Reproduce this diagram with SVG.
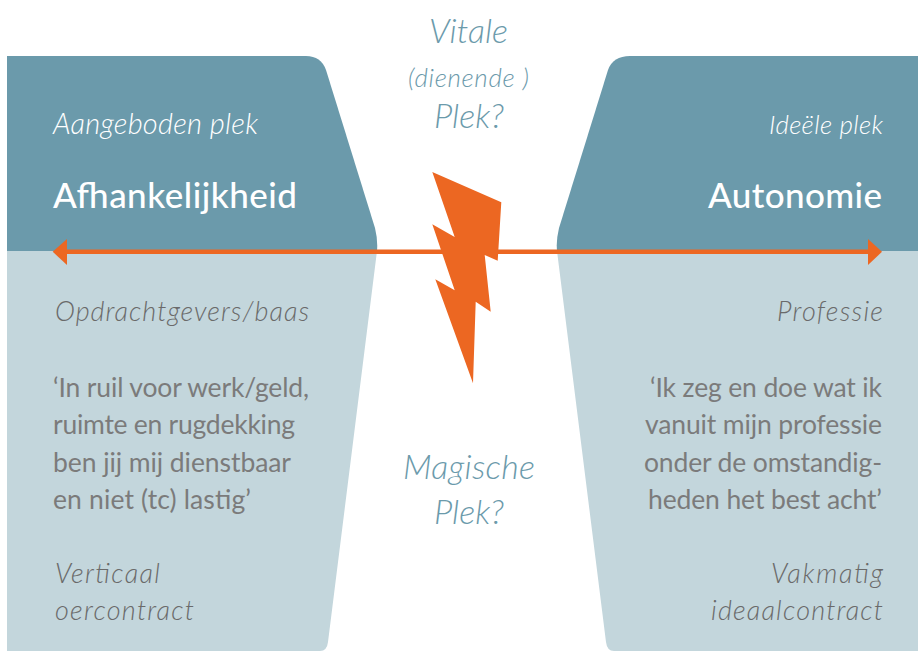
<svg xmlns="http://www.w3.org/2000/svg" width="918" height="651" viewBox="0 0 918 651">
<style>
text{font-family:"Lato","Liberation Sans",sans-serif;font-weight:300}
.g{fill:#6a6a6a;font-size:27px}
.u{font-weight:400;font-size:26.5px;fill:#7b7b7b}
.i{font-style:italic}
.b{fill:#6b9aab;font-style:italic;font-size:34px}
.s{font-size:26px}
.w{fill:#fff}
.h{font-size:35px;font-weight:500}
</style>
<rect width="918" height="651" fill="#fff"/>
<g id="left">
<path d="M7 251H377L328 642Q327 651 320 651H7Z" fill="#c3d6dc"/>
<path d="M7 56H306Q321 56 326 70L375 228Q378 240 377 251H7Z" fill="#6b9aab"/>
<text class="w i" x="53" y="134" font-size="29" textLength="205">Aangeboden plek</text>
<text class="w h" x="53" y="208" textLength="244">Afhankelijkheid</text>
<text class="g i" x="55" y="321" textLength="254">Opdrachtgevers/baas</text>
<text class="g u" x="53" y="397" textLength="256">‘In ruil voor werk/geld,</text>
<text class="g u" x="53" y="434" textLength="242">ruimte en rugdekking</text>
<text class="g u" x="53" y="472" textLength="238">ben jij mij dienstbaar</text>
<text class="g u" x="53" y="509" textLength="198">en niet (tc) lastig’</text>
<text class="g i" x="55" y="583" textLength="105">Verticaal</text>
<text class="g i" x="55" y="620" textLength="139">oercontract</text>
</g>
<g id="right">
<path d="M918 251H557L606 642Q607 651 614 651H918Z" fill="#c3d6dc"/>
<path d="M918 56H630Q613 56 608 70L559 228Q556 240 557 251H918Z" fill="#6b9aab"/>
<text class="w i" x="769" y="134" font-size="26" textLength="114">Ideële plek</text>
<text class="w h" x="708" y="208" textLength="174">Autonomie</text>
<text class="g i" x="777" y="321" textLength="106">Professie</text>
<text class="g u" x="650" y="397" textLength="232">‘Ik zeg en doe wat ik</text>
<text class="g u" x="645" y="434" textLength="237">vanuit mijn professie</text>
<text class="g u" x="644" y="472" textLength="238">onder de omstandig-</text>
<text class="g u" x="648" y="509" textLength="234">heden het best acht’</text>
<text class="g i" x="771" y="583" textLength="112">Vakmatig</text>
<text class="g i" x="711" y="620" textLength="172">ideaalcontract</text>
</g>
<g id="top-label">
<text class="b" x="429" y="43" textLength="79">Vitale</text>
<text class="b s" x="408" y="87" textLength="121">(dienende )</text>
<text class="b" x="434" y="128" textLength="70">Plek?</text>
</g>
<g id="bottom-label">
<text class="b" x="403" y="479" textLength="132">Magische</text>
<text class="b" x="434" y="524" textLength="70">Plek?</text>
</g>
<g id="connectors">
<path d="M66 251.8H869" stroke="#ec6722" stroke-width="4.5" fill="none"/>
<path d="M52.7 251.8L67 239V265Z" fill="#ec6722"/>
<path d="M882 251.8L868 239V265Z" fill="#ec6722"/>
</g>
<g id="bolt">
<path d="M432.3 172L501.3 202.3L497.7 260.7L484.7 255L490.7 311.7L475.7 301.7L473 383.3L435.3 279.3L454.7 290.3L432.3 224.3L454.7 237Z" fill="#ec6722"/>
</g>
</svg>
